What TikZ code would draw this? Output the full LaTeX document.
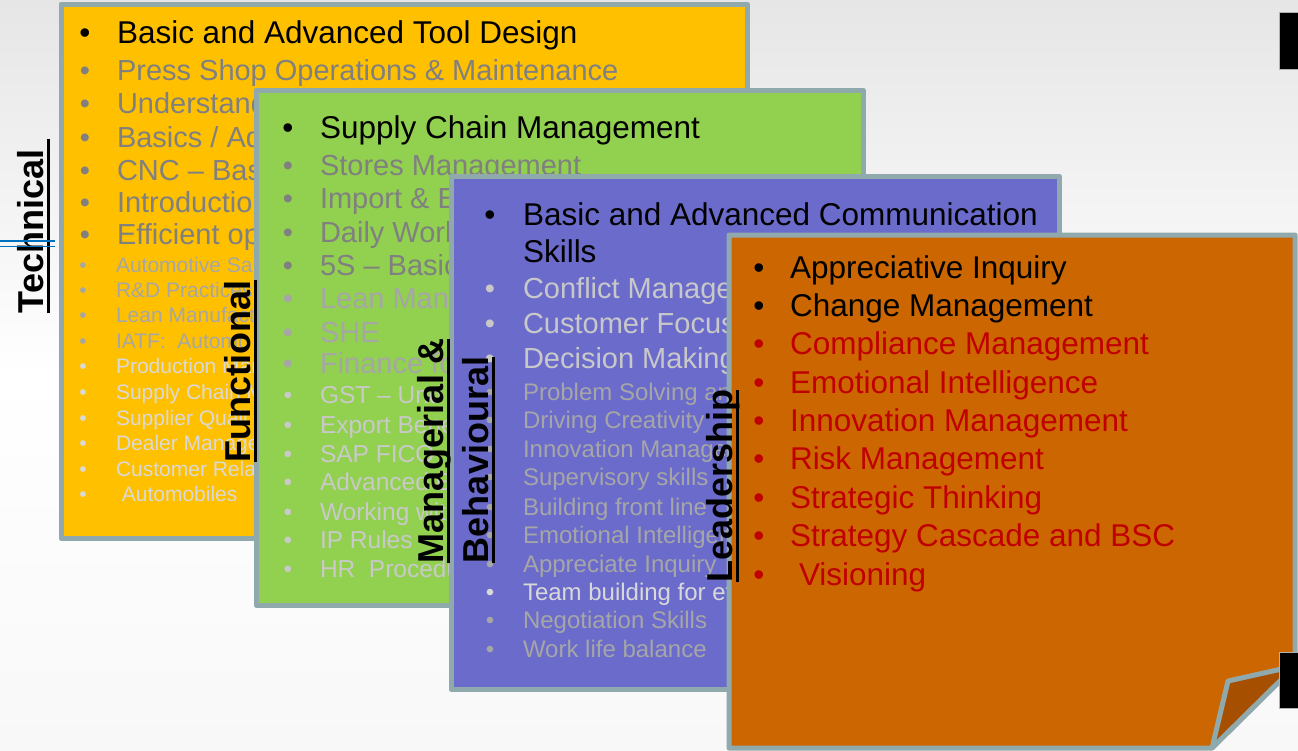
\documentclass[tikz,border=0pt]{standalone}
\usepackage{fontspec}
\setmainfont{Liberation Sans}
\definecolor{cardborder}{HTML}{8FA9AC}
\definecolor{cyellow}{HTML}{FFC000}
\definecolor{cgreen}{HTML}{92D050}
\definecolor{cpurple}{HTML}{6B6BCC}
\definecolor{corange}{HTML}{CC6600}
\definecolor{cfold}{HTML}{A64F00}
\definecolor{tgray}{HTML}{808080}
\definecolor{tmid}{HTML}{A6A6A6}
\definecolor{tlight}{HTML}{D9D9D9}
\definecolor{tgl}{HTML}{C9C9C9}
\definecolor{plight}{HTML}{C8C8C8}
\definecolor{tred}{HTML}{C00000}
\definecolor{lineblue}{HTML}{0070C0}
\definecolor{bgtop}{HTML}{E6E6E6}
\definecolor{bgbot}{HTML}{F8F8F8}
\begin{document}
\begin{tikzpicture}[x=1pt,y=-1pt,
  card/.style={draw=cardborder, line width=5pt, line join=round},
  itm/.style={anchor=base west, inner sep=0pt, outer sep=0pt},
  bul/.style={anchor=base, inner sep=0pt, outer sep=0pt},
  big/.style={font=\fontsize{31.5}{34}\selectfont},
  mid/.style={font=\fontsize{29}{32}\selectfont},
  smallY/.style={font=\fontsize{21}{24}\selectfont},
  smallG/.style={font=\fontsize{24.5}{28}\selectfont},
  smallP/.style={font=\fontsize{24}{28}\selectfont},
  lbl/.style={rotate=90, anchor=base west, inner sep=0pt, outer sep=0pt, font=\fontsize{36}{40}\selectfont\bfseries},
  uline/.style={line width=3pt, black},
  blueline/.style={lineblue, line width=1.8pt},
  tab/.style={fill=black, draw=gray!60, line width=0.8pt}]
\useasboundingbox (0,0) rectangle (1298,750);
\shade[top color=bgtop, bottom color=bgbot, middle color=white] (0,0) rectangle (1298,750);

% ---------- Technical (yellow) ----------
\draw[card, fill=cyellow] (61,4) rectangle (747,538);
\node[bul,big,text=black] (yb0) at (85,43) {•};
\node[itm,big,text=black] (yt0) at (117,43) {Basic and Advanced Tool Design};
\foreach \y/\t [count=\i] in {
  80/{Press Shop Operations \& Maintenance},
  113/{Understand},
  147/{Basics / Ad},
  180/{CNC – Basi},
  212/{Introduction},
  244/{Efficient ope}}{
  \node[bul,mid,text=tgray] (yb\i) at (85,\y) {•};
  \node[itm,mid,text=tgray] (yt\i) at (117,\y) {\t};
}
\foreach \y/\c/\t [count=\i] in {
  272/tmid/{Automotive Sa},
  297/tmid/{R\&D Practices},
  322/tmid/{Lean Manufact},
  348/tmid/{IATF:\ \ Automo},
  373/tlight/{Production Man},
  399/tlight/{Supply Chain M},
  425/tlight/{Supplier Quali},
  450/tlight/{Dealer Manage},
  476/tlight/{Customer Relat},
  501/tlight/{\ Automobiles}}{
  \node[bul,smallY,text=\c] (ysb\i) at (83,\y) {•};
  \node[itm,smallY,text=\c] (yst\i) at (116,\y) {\t};
}

% ---------- Functional (green) ----------
\draw[card, fill=cgreen] (256,90) rectangle (863,605);
\node[bul,big,text=black] (gb0) at (288,138) {•};
\node[itm,big,text=black] (gt0) at (320,138) {Supply Chain Management};
\foreach \y/\c/\t [count=\i] in {
  175/tgray/{Stores Management},
  208/tgray/{Import \& Ex},
  242/tgray/{Daily Work},
  275/tgray/{5S – Basic},
  308/tmid/{Lean Manfu},
  342/tmid/{SHE},
  373/tmid/{Finance for}}{
  \node[bul,mid,text=\c] (gb\i) at (288,\y) {•};
  \node[itm,mid,text=\c] (gt\i) at (320,\y) {\t};
}
\foreach \y/\t [count=\i] in {
  403/{GST – Und},
  433/{Export Bene},
  462/{SAP FICO},
  490/{Advanced E},
  520/{Working wit},
  548/{IP Rules},
  577/{HR\ \ Procedu}}{
  \node[bul,smallG,text=tgl] (gsb\i) at (288,\y) {•};
  \node[itm,smallG,text=tgl] (gst\i) at (320,\y) {\t};
}

% ---------- Managerial & Behavioural (purple) ----------
\draw[card, fill=cpurple] (451,176) rectangle (1059,689);
\node[bul,big,text=black] (pb0) at (490,225) {•};
\node[itm,big,text=black] (pt0) at (523,225) {Basic and Advanced Communication};
\node[itm,big,text=black] (pt00) at (523,262) {Skills};
\foreach \y/\t [count=\i] in {
  298/{Conflict Manage},
  333/{Customer Focus},
  368/{Decision Making}}{
  \node[bul,mid,text=plight] (pb\i) at (490,\y) {•};
  \node[itm,mid,text=plight] (pt\i) at (523,\y) {\t};
}
\foreach \y/\c/\t [count=\i] in {
  400/tmid/{Problem Solving an},
  428/tmid/{Driving Creativity},
  457/tmid/{Innovation Manage},
  485/tmid/{Supervisory skills},
  515/tmid/{Building front line},
  543/tmid/{Emotional Intelligen},
  572/tmid/{Appreciate Inquiry},
  600/tlight/{Team building for ef},
  628/tmid/{Negotiation Skills},
  657/tmid/{Work life balance}}{
  \node[bul,smallP,text=\c] (psb\i) at (490,\y) {•};
  \node[itm,smallP,text=\c] (pst\i) at (523,\y) {\t};
}

% ---------- Leadership (orange) ----------
\draw[card, fill=corange] (729,235) -- (1295,235) -- (1295,666) -- (1212,748) -- (729,748) -- cycle;
\draw[card, fill=cfold] (1295,666) -- (1228,681) -- (1212,748) -- cycle;
\foreach \y/\c/\t [count=\i] in {
  278/black/{Appreciative Inquiry},
  316/black/{Change Management},
  354/tred/{Compliance Management},
  393/tred/{Emotional Intelligence},
  431/tred/{Innovation Management},
  469/tred/{Risk Management},
  508/tred/{Strategic Thinking},
  546/tred/{Strategy Cascade and BSC}}{
  \node[bul,big,text=\c] (ob\i) at (759,\y) {•};
  \node[itm,big,text=\c] (ot\i) at (790,\y) {\t};
}
\node[bul,big,text=tred] (ob9) at (759,585) {•};
\node[itm,big,text=tred] (ot9) at (799,585) {Visioning};

% black tabs at right edge
\draw[tab] (1279,12) rectangle (1302,69);
\draw[tab] (1279,652) rectangle (1302,708);

% ---------- rotated category labels ----------
\node[lbl] (lt) at (43,313) {Technical};
\node[lbl] (lf) at (250,462) {Functional};
\node[lbl] (lm) at (443,563) {Managerial \&};
\node[lbl] (lb) at (488,563) {Behavioural};
\node[lbl] (ll) at (732,582) {Leadership};
\draw[uline] ([xshift=5pt]lt.base west) -- ([xshift=5pt,yshift=11pt]lt.base east);
\draw[uline] ([xshift=5pt]lf.base west) -- ([xshift=5pt]lf.base east);
\draw[uline] ([xshift=5pt]lm.base west) -- ([xshift=5pt]lm.base east);
\draw[uline] ([xshift=5pt]lb.base west) -- ([xshift=5pt]lb.base east);
\draw[uline] ([xshift=5pt]ll.base west) -- ([xshift=5pt]ll.base east);

% blue double line at the left edge
\coordinate (bl1a) at (0,241);
\coordinate (bl1b) at (55,241);
\coordinate (bl2a) at (0,246.5);
\coordinate (bl2b) at (55,246.5);
\draw[blueline] (bl1a) -- (bl1b);
\draw[blueline] (bl2a) -- (bl2b);
\end{tikzpicture}
\end{document}
